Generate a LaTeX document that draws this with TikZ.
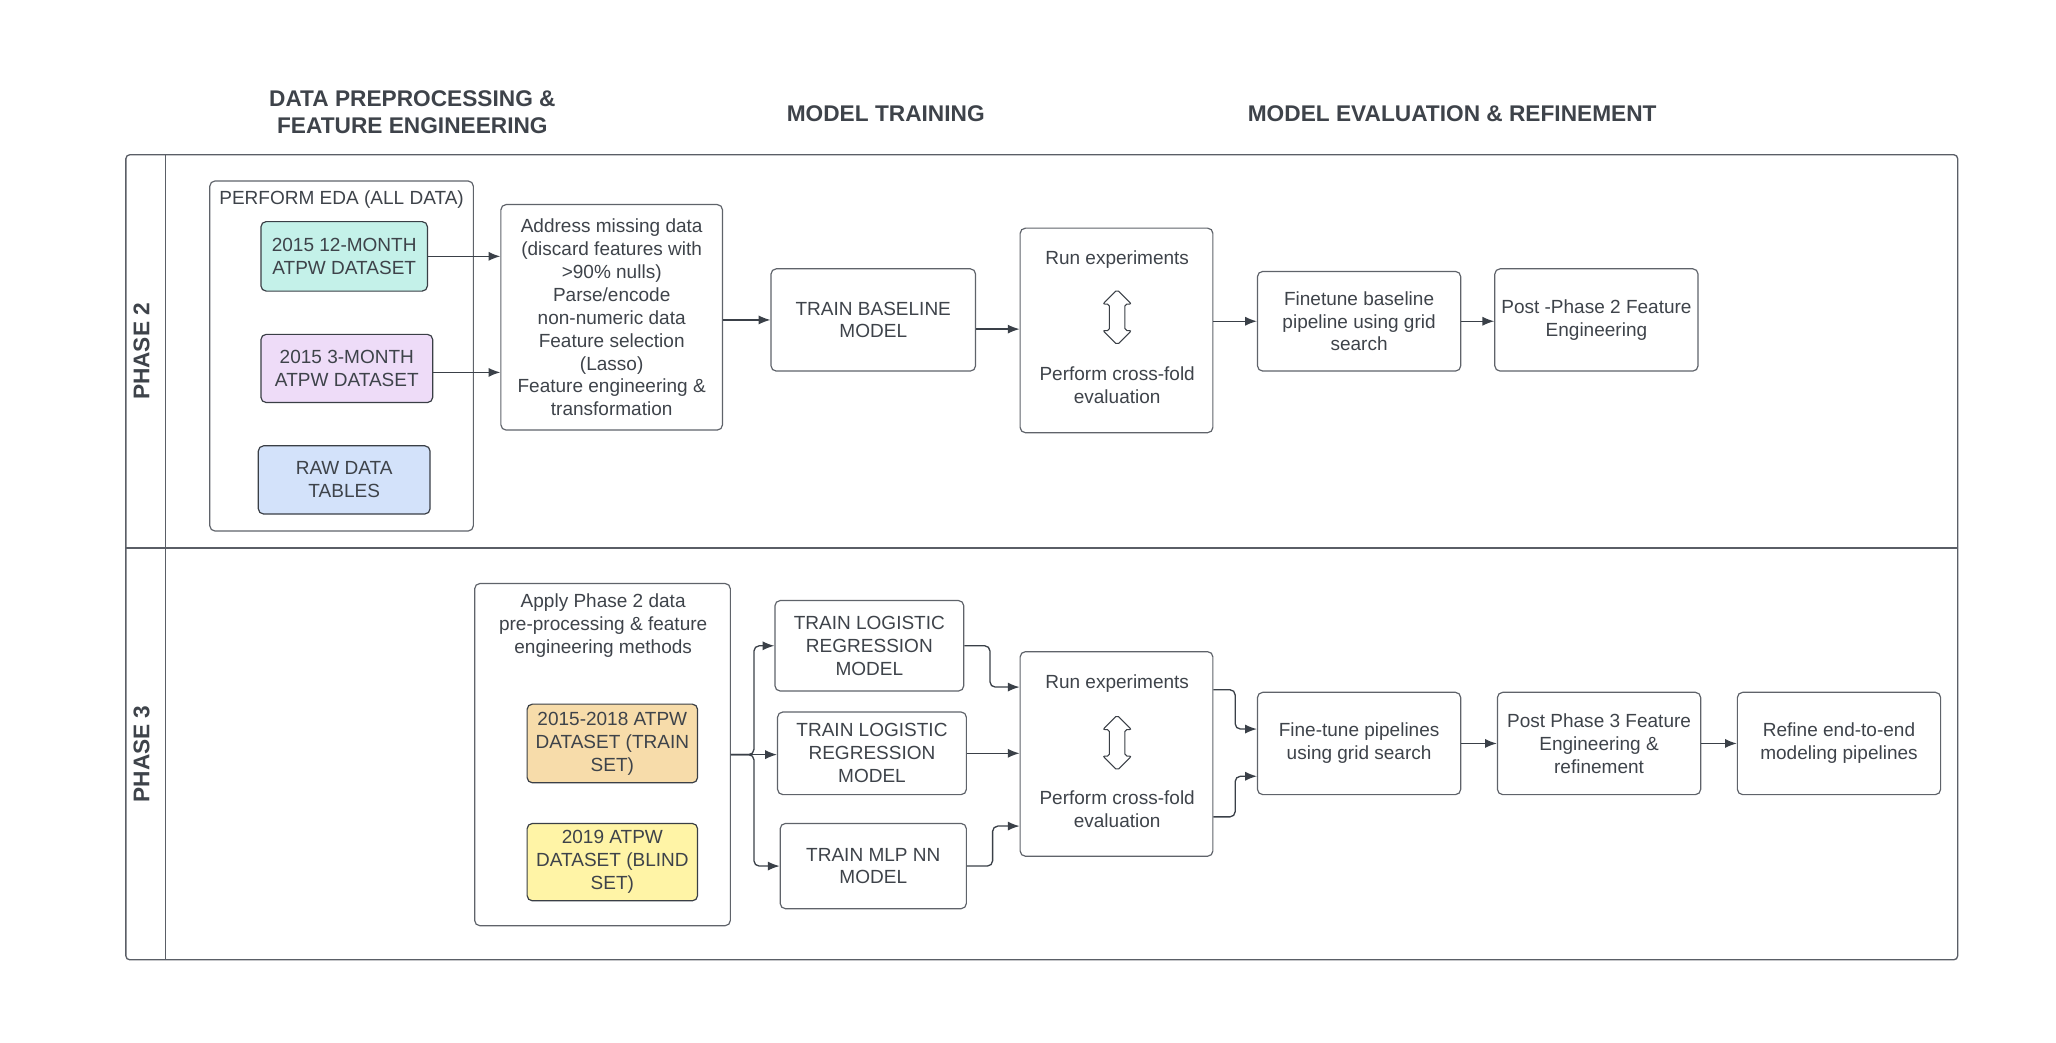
\documentclass[tikz,border=0pt]{standalone}
\usepackage{fontspec}
\setmainfont{Liberation Sans}
\usetikzlibrary{arrows.meta,shapes.arrows}
\definecolor{textc}{HTML}{3E434A}
\definecolor{boxc}{HTML}{5F636A}
\definecolor{darkc}{HTML}{3A3F46}
\definecolor{linec}{HTML}{3A4048}
\definecolor{framec}{HTML}{5A5E66}
\definecolor{greenf}{HTML}{C4F1E9}
\definecolor{purplef}{HTML}{EEDCF8}
\definecolor{bluef}{HTML}{D3E2FA}
\definecolor{orangef}{HTML}{F7DCAA}
\definecolor{yellowf}{HTML}{FFF4A6}
\begin{document}
\begin{tikzpicture}[x=1pt,y=-1pt,
  txt/.style={text=textc, font=\fontsize{14.5}{17.5}\selectfont, align=center, inner sep=0pt},
  box/.style={draw=boxc, line width=0.9pt, rounded corners=4pt, fill=white, inner sep=0pt, txt},
  databox/.style={box, draw=darkc},
  conn/.style={draw=linec, line width=1pt, -{Latex[length=9pt,width=7pt]}, rounded corners=4pt},
  hdr/.style={text=textc, font=\fontsize{17.3}{21}\selectfont\bfseries, align=center},
  dblarrow/.style={double arrow, draw=darkc, line width=0.8pt, rotate=90, minimum height=42pt,
     inner sep=5.5pt, double arrow head extend=5pt, rounded corners=1.5pt},
]
\useasboundingbox (0,0) rectangle (1568,795);

% headers
\node[hdr] (h1) at (314.5,85.5) {DATA PREPROCESSING \&\\FEATURE ENGINEERING};
\node[hdr] (h2) at (675.5,87) {MODEL TRAINING};
\node[hdr] (h3) at (1107.5,87) {MODEL EVALUATION \& REFINEMENT};

% frame
\draw[framec, line width=1pt, rounded corners=3pt] (96,118) rectangle (1493,732);
\draw[framec, line width=1pt] (126,118) -- (126,732);
\draw[framec, line width=1pt] (96,418) -- (1493,418);
\node[hdr, rotate=90] (p2) at (108,268) {PHASE 2};
\node[hdr, rotate=90] (p3) at (108,575) {PHASE 3};

% ---------- Phase 2 ----------
\node[box, minimum width=201pt, minimum height=267pt] (eda) at (260.5,271.5) {};
\node[txt] (edal) at (260.5,152.5) {PERFORM EDA (ALL DATA)};
\node[databox, fill=greenf, minimum width=127pt, minimum height=53pt] (green) at (262.5,195.5) {2015 12-MONTH\\ATPW DATASET};
\node[databox, fill=purplef, minimum width=131pt, minimum height=52pt] (purple) at (264.5,281) {2015 3-MONTH\\ATPW DATASET};
\node[databox, fill=bluef, minimum width=131pt, minimum height=52pt] (blue) at (262.5,366) {RAW DATA\\TABLES};

\node[box, minimum width=169pt, minimum height=172pt] (addr) at (466.5,242) {Address missing data\\(discard features with\\>90\% nulls)\\Parse/encode\\non-numeric data\\Feature selection\\(Lasso)\\Feature engineering \&\\transformation};

\node[box, minimum width=156pt, minimum height=78pt] (tb) at (666,244) {TRAIN BASELINE\\MODEL};

\node[box, minimum width=147pt, minimum height=156pt] (run2) at (851.5,252) {};
\node[txt] (run2a) at (852,198) {Run experiments};
\node[dblarrow] (run2d) at (852,242) {};
\node[txt] (run2b) at (852,293.5) {Perform cross-fold\\evaluation};

\node[box, minimum width=155pt, minimum height=76pt] (ft2) at (1036.5,245) {Finetune baseline\\pipeline using grid\\search};
\node[box, minimum width=155pt, minimum height=78pt] (post2) at (1217.5,244) {Post -Phase 2 Feature\\Engineering};

\draw[conn] (green.east) -- (green.east -| addr.west);
\draw[conn] ([yshift=-3pt]purple.east) -- ([yshift=-3pt]purple.east -| addr.west);
\draw[conn] (tb.west -| addr.east) -- (tb.west);
\draw[conn] ([yshift=-7pt]tb.east) -- ([yshift=-7pt]tb.east -| run2.west);
\draw[conn] (ft2.west -| run2.east) -- (ft2.west);
\draw[conn] (ft2.east) -- (ft2.east -| post2.west);

% ---------- Phase 3 ----------
\node[box, minimum width=195pt, minimum height=261pt] (apply) at (459.5,575.5) {};
\node[txt] (applyl) at (460,477) {Apply Phase 2 data\\pre-processing \& feature\\engineering methods};
\node[databox, fill=orangef, minimum width=130pt, minimum height=60pt] (orange) at (467,567) {2015-2018 ATPW\\DATASET (TRAIN\\SET)};
\node[databox, fill=yellowf, minimum width=130pt, minimum height=59pt] (yellow) at (467,657.5) {2019 ATPW\\DATASET (BLIND\\SET)};

\node[box, minimum width=144pt, minimum height=69pt] (lr1) at (663,492.5) {TRAIN LOGISTIC\\REGRESSION\\MODEL};
\node[box, minimum width=144pt, minimum height=63pt] (lr2) at (665,574.5) {TRAIN LOGISTIC\\REGRESSION\\MODEL};
\node[box, minimum width=142pt, minimum height=65pt] (mlp) at (666,660.5) {TRAIN MLP NN\\MODEL};

\node[box, minimum width=147pt, minimum height=156pt] (run3) at (851.5,575) {};
\node[txt] (run3a) at (852,521) {Run experiments};
\node[dblarrow] (run3d) at (852,566.5) {};
\node[txt] (run3b) at (852,617) {Perform cross-fold\\evaluation};

\node[box, minimum width=155pt, minimum height=78pt] (ft3) at (1036.5,567) {Fine-tune pipelines\\using grid search};
\node[box, minimum width=155pt, minimum height=78pt] (post3) at (1219.5,567) {Post Phase 3 Feature\\Engineering \&\\refinement};
\node[box, minimum width=155pt, minimum height=78pt] (refine) at (1402.5,567) {Refine end-to-end\\modeling pipelines};

\coordinate (sp) at (575,575.5);
\draw[conn] (apply.east) -- (sp) |- (lr1.west);
\draw[conn] (apply.east) -- (lr2.west |- apply.east);
\draw[conn] (apply.east) -- (sp) |- (mlp.west);

\coordinate (j1) at (755,524);
\coordinate (j3) at (757,630);
\draw[conn] (lr1.east) -| (j1) -- (j1 -| run3.west);
\draw[conn] (lr2.east) -- (lr2.east -| run3.west);
\draw[conn] (mlp.east) -| (j3) -- (j3 -| run3.west);

\coordinate (k1) at (942,526);
\coordinate (k1b) at (942,556);
\coordinate (k2) at (942,623);
\coordinate (k2b) at (942,592);
\draw[conn] (k1 -| run3.east) -- (k1) -- (k1b) -- (k1b -| ft3.west);
\draw[conn] (k2 -| run3.east) -- (k2) -- (k2b) -- (k2b -| ft3.west);

\draw[conn] (ft3.east) -- (ft3.east -| post3.west);
\draw[conn] (post3.east) -- (post3.east -| refine.west);
\end{tikzpicture}
\end{document}
